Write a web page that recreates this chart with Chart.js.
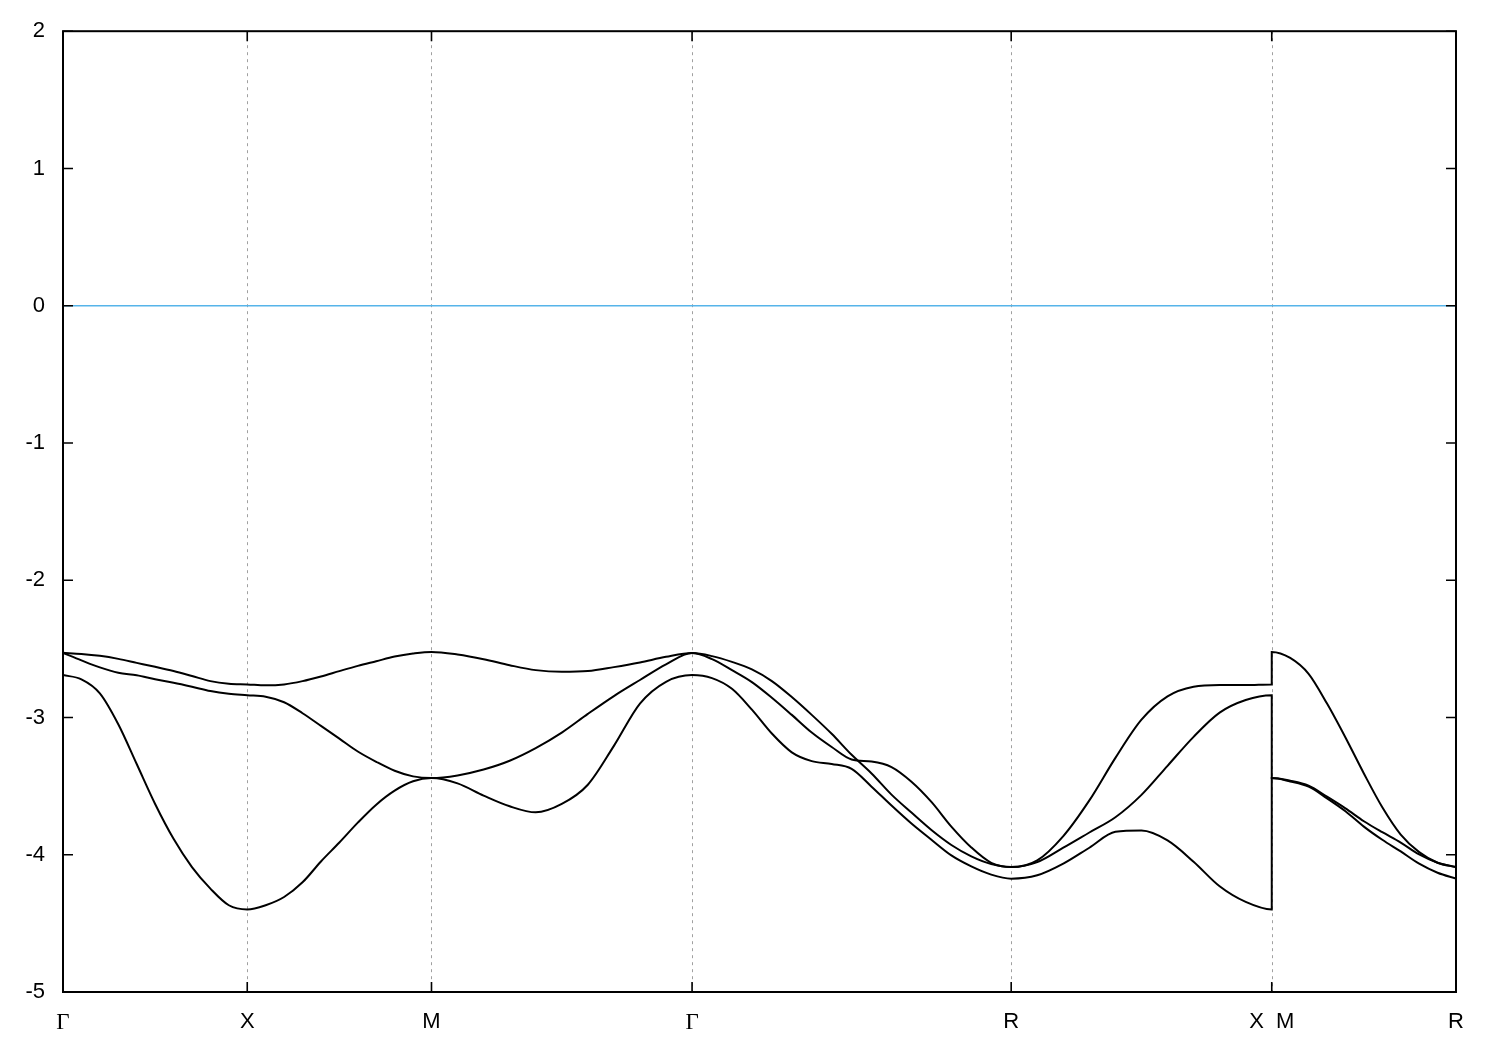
<!DOCTYPE html>
<html>
<head>
<meta charset="utf-8">
<script src="https://cdn.jsdelivr.net/npm/chart.js@4/dist/chart.umd.min.js"></script>
<style>
  html, body { margin: 0; padding: 0; background: #ffffff; }
  #wrap { width: 1500px; height: 1050px; }
</style>
</head>
<body>
<div id="wrap"><canvas id="c" width="1500" height="1050"></canvas></div>
<script>
// High-symmetry points along the k-path (Γ-X-M-Γ-R-X | M-R)
const kLabels = ['Γ', 'X', 'M', 'Γ', 'R', 'X  M', 'R'];
// Segment lengths in units of |Γ-X|
const segLen = [1, 1, Math.SQRT2, Math.sqrt(3), Math.SQRT2, 1];
// Segment that starts a new (discontinuous) piece of path
const segJump = [false, false, false, false, false, true];
// Energy axis ticks
const yTicks = [-5, -4, -3, -2, -1, 0, 1, 2];
const fermiLevel = 0;

// Bands: per segment, values sampled evenly along the segment (endpoints included)
const bandA = [
  [-2.529, -2.537, -2.551, -2.573, -2.602, -2.631, -2.662, -2.698, -2.735, -2.754, -2.759],
  [-2.759, -2.766, -2.759, -2.735, -2.701, -2.662, -2.624, -2.590, -2.556, -2.534, -2.522],
  [-2.522, -2.541, -2.575, -2.619, -2.655, -2.667, -2.662, -2.633, -2.599, -2.558, -2.531],
  [-2.531, -2.553, -2.595, -2.650, -2.735, -2.851, -2.981, -3.119, -3.272, -3.408, -3.562, -3.693, -3.820, -3.929, -4.012, -4.068, -4.090],
  [-4.090, -4.041, -3.864, -3.604, -3.294, -3.016, -2.846, -2.776, -2.764, -2.764, -2.759],
  [-2.522, -2.566, -2.682, -2.899, -3.146, -3.408, -3.654, -3.853, -3.981, -4.058, -4.090]
];
const bandB = [
  [-2.529, -2.584, -2.635, -2.674, -2.693, -2.722, -2.747, -2.776, -2.807, -2.827, -2.838],
  [-2.838, -2.849, -2.889, -2.969, -3.061, -3.154, -3.248, -3.323, -3.388, -3.429, -3.441],
  [-3.441, -3.422, -3.379, -3.315, -3.223, -3.110, -2.974, -2.844, -2.727, -2.613, -2.531],
  [-2.531, -2.575, -2.655, -2.742, -2.856, -2.981, -3.110, -3.215, -3.306, -3.321, -3.361, -3.468, -3.615, -3.795, -3.947, -4.059, -4.090],
  [-4.090, -4.054, -3.949, -3.838, -3.727, -3.564, -3.352, -3.141, -2.965, -2.873, -2.838],
  [-3.441, -3.461, -3.497, -3.577, -3.662, -3.756, -3.836, -3.911, -3.998, -4.058, -4.090]
];
const bandC = [
  [-2.691, -2.722, -2.824, -3.049, -3.339, -3.630, -3.884, -4.090, -4.247, -4.368, -4.399],
  [-4.399, -4.368, -4.308, -4.201, -4.049, -3.911, -3.766, -3.635, -3.533, -3.465, -3.441],
  [-3.441, -3.480, -3.569, -3.647, -3.691, -3.630, -3.490, -3.207, -2.899, -2.740, -2.691],
  [-2.691, -2.713, -2.791, -2.943, -3.117, -3.254, -3.318, -3.339, -3.374, -3.504, -3.642, -3.773, -3.891, -4.005, -4.085, -4.145, -4.174],
  [-4.174, -4.150, -4.065, -3.949, -3.833, -3.824, -3.896, -4.051, -4.230, -4.344, -4.399],
  [-3.441, -3.466, -3.504, -3.589, -3.683, -3.795, -3.891, -3.976, -4.065, -4.131, -4.174]
];

// start of each segment along the path; X and M share a position (zero-length jump)
const segStart = [];
(function () {
  let k = 0;
  for (let s = 0; s < segLen.length; s++) { segStart.push(k); k += segLen[s]; }
})();
const tickPos = segStart.concat([segStart[segStart.length - 1] + segLen[segLen.length - 1]]);
const kMax = tickPos[tickPos.length - 1];

function buildBand(band) {
  const pts = [];
  band.forEach((vals, s) => {
    const n = vals.length;
    vals.forEach((v, i) => {
      if (i === 0 && s > 0 && !segJump[s]) return;
      pts.push({ x: segStart[s] + segLen[s] * i / (n - 1), y: v });
    });
  });
  return pts;
}

const SANS = '"Liberation Sans", Arial, Helvetica, sans-serif';
const SERIF = '"Liberation Serif", "Times New Roman", serif';

const framePlugin = {
  id: 'frame',
  beforeDatasetsDraw(chart) {
    const { ctx, chartArea: a, scales: { x } } = chart;
    ctx.save();
    ctx.strokeStyle = '#a0a0a0';
    ctx.lineWidth = 1;
    ctx.setLineDash([3, 4]);
    tickPos.forEach(k => {
      const px = Math.round(x.getPixelForValue(k)) + 0.5;
      ctx.beginPath();
      ctx.moveTo(px, a.top);
      ctx.lineTo(px, a.bottom);
      ctx.stroke();
    });
    ctx.restore();
  },
  afterDatasetsDraw(chart) {
    const { ctx, chartArea: a, scales: { x, y } } = chart;
    ctx.save();
    ctx.strokeStyle = '#000';
    ctx.lineWidth = 1.6;
    ctx.setLineDash([]);
    const T = 10;
    yTicks.forEach(v => {
      const py = y.getPixelForValue(v);
      ctx.beginPath();
      ctx.moveTo(a.left, py); ctx.lineTo(a.left + T, py);
      ctx.moveTo(a.right, py); ctx.lineTo(a.right - T, py);
      ctx.stroke();
    });
    tickPos.forEach(k => {
      const px = x.getPixelForValue(k);
      ctx.beginPath();
      ctx.moveTo(px, a.bottom); ctx.lineTo(px, a.bottom - T);
      ctx.moveTo(px, a.top); ctx.lineTo(px, a.top + T);
      ctx.stroke();
    });
    ctx.lineWidth = 2;
    ctx.strokeRect(a.left, a.top, a.right - a.left, a.bottom - a.top);
    ctx.restore();
  }
};

const lineStyle = { borderColor: '#000000', borderWidth: 2, pointRadius: 0, showLine: true, fill: false, cubicInterpolationMode: 'monotone' };

new Chart(document.getElementById('c'), {
  type: 'scatter',
  data: {
    datasets: [
      { label: 'E_F', data: [{ x: 0, y: fermiLevel }, { x: kMax, y: fermiLevel }], borderColor: '#56b4e9', borderWidth: 1.5, pointRadius: 0, showLine: true, fill: false },
      Object.assign({ label: 'band 1', data: buildBand(bandA) }, lineStyle),
      Object.assign({ label: 'band 2', data: buildBand(bandB) }, lineStyle),
      Object.assign({ label: 'band 3', data: buildBand(bandC) }, lineStyle)
    ]
  },
  options: {
    responsive: false,
    animation: false,
    devicePixelRatio: 1,
    layout: { padding: { left: 0, right: 44, top: 28, bottom: 0 } },
    plugins: { legend: { display: false }, tooltip: { enabled: false } },
    scales: {
      x: {
        type: 'linear', min: 0, max: kMax,
        grid: { display: false, drawTicks: false },
        border: { display: false },
        afterFit(scale) { scale.height = 58; },
        afterBuildTicks(scale) { scale.ticks = tickPos.map(v => ({ value: v })); },
        ticks: {
          autoSkip: false, maxRotation: 0, padding: 17,
          color: '#000',
          font: (c) => (kLabels[c.index] === 'Γ') ? { family: SERIF, size: 23 } : { family: SANS, size: 22 },
          callback: (v, i) => kLabels[i]
        }
      },
      y: {
        type: 'linear', min: -5, max: 2,
        grid: { display: false, drawTicks: false },
        border: { display: false },
        afterFit(scale) { scale.width = 63; },
        afterBuildTicks(scale) { scale.ticks = yTicks.map(v => ({ value: v })); },
        ticks: {
          padding: 18, color: '#000', font: { family: SANS, size: 22 },
          callback: v => String(v)
        }
      }
    }
  },
  plugins: [framePlugin]
});
</script>
</body>
</html>
